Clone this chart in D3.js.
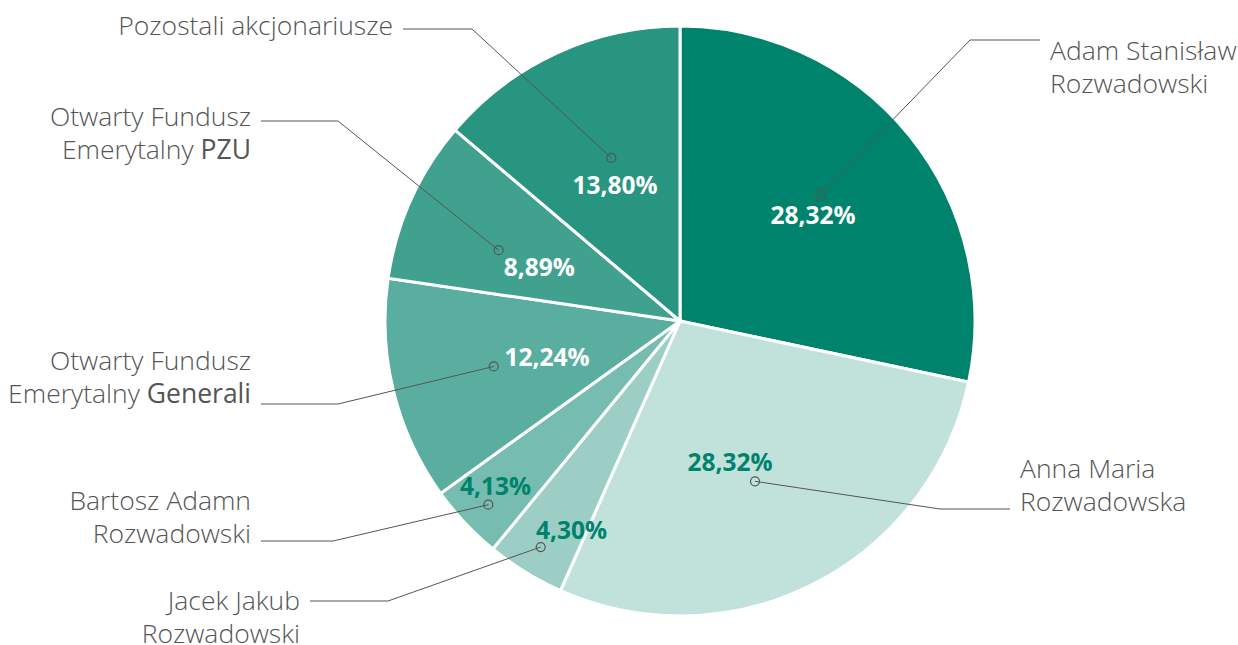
<!DOCTYPE html>
<html>
<head>
<meta charset="utf-8">
<script src="https://cdn.jsdelivr.net/npm/d3@7"></script>
<style>
  body { margin: 0; background: #fff; }
  svg { display: block; }
</style>
</head>
<body>
<div id="chart"></div>
<script>
// dane: akcjonariusze i udzialy (%), kolejnosc zgodnie z ruchem wskazowek od godz. 12
const names = [
  ["Adam Stanisław", "Rozwadowski"],
  ["Anna Maria", "Rozwadowska"],
  ["Jacek Jakub", "Rozwadowski"],
  ["Bartosz Adamn", "Rozwadowski"],
  ["Otwarty Fundusz", "Emerytalny |Generali"],
  ["Otwarty Fundusz", "Emerytalny |PZU"],
  ["Pozostali akcjonariusze"]
];
const shares = [28.32, 28.32, 4.30, 4.13, 12.24, 8.89, 13.80];
const colors = ["#00836c", "#c1e1db", "#9dcec5", "#76bcb0", "#5aae9f", "#41a18f", "#27957f"];
const pctColors = ["#fff", "#00836c", "#00836c", "#00836c", "#fff", "#fff", "#fff"];

// rozmieszczenie opisow (poza danymi)
const layout = [
  { side: "r", x: 1050, y: 51, lineY: 40, elbow: 970, lr: 0.575, la: 0.7, dr: 0.64, da: -3 },
  { side: "r", x: 1020, y: 469, lineY: 509, elbow: 940, lr: 0.51, la: 7.6, dr: 0.6, da: 2 },
  { side: "l", x: 300, y: 601, lineY: 601, elbow: 388, lr: 0.8, la: -4.3, dr: 0.9, da: 0 },
  { side: "l", x: 251, y: 501, lineY: 541, elbow: 333, lr: 0.84, la: 1.3, dr: 0.9, da: -0.6 },
  { side: "l", x: 251, y: 361, lineY: 404, elbow: 338, lr: 0.467, la: -1.4, dr: 0.65, da: 0 },
  { side: "l", x: 251, y: 117, lineY: 121, elbow: 338, lr: 0.51, la: -3.6, dr: 0.66, da: -3 },
  { side: "l", x: 393, y: 26, lineY: 29, elbow: 472, lr: 0.51, la: -0.7, dr: 0.6, da: 2 }
];

const width = 1238, height = 645;
const cx = 680, cy = 321, R = 295;

const svg = d3.select("#chart").append("svg")
  .attr("width", width)
  .attr("height", height);

const g = svg.append("g").attr("transform", `translate(${cx},${cy})`);

const pie = d3.pie().sort(null).value(d => d);
const arcs = pie(shares);
const arc = d3.arc().innerRadius(0).outerRadius(R);

g.selectAll("path.slice")
  .data(arcs)
  .enter()
  .append("path")
  .attr("class", "slice")
  .attr("d", arc)
  .attr("fill", (d, i) => colors[i])
  .attr("stroke", "#fff")
  .attr("stroke-width", 3);

const deg = Math.PI / 180;
function polar(r, a) {
  return [r * Math.sin(a), -r * Math.cos(a)];
}

arcs.forEach((d, i) => {
  const L = layout[i];
  const mid = (d.startAngle + d.endAngle) / 2;
  const [lx, ly] = polar(R * L.lr, mid + L.la * deg);
  const [dx, dy] = polar(R * L.dr, mid + L.da * deg);

  // linia odnosnika
  const ex = L.elbow - cx, ey = L.lineY - cy;
  const hx = (L.side === "r" ? L.x - 10 : L.x + 10) - cx;
  g.append("path")
    .attr("d", `M${dx},${dy}L${ex},${ey}L${hx},${ey}`)
    .attr("fill", "none")
    .attr("stroke", "#555")
    .attr("stroke-width", 1);

  g.append("circle")
    .attr("cx", dx)
    .attr("cy", dy)
    .attr("r", 4.5)
    .attr("fill", "none")
    .attr("stroke", "#555")
    .attr("stroke-width", 1.2);

  // wartosc procentowa
  g.append("text")
    .attr("x", lx)
    .attr("y", ly)
    .attr("dy", "0.35em")
    .attr("text-anchor", "middle")
    .attr("fill", pctColors[i])
    .style("font-family", "'Open Sans', sans-serif")
    .style("font-weight", 700)
    .style("font-size", "24.5px")
    .text(d3.format(".2f")(d.data).replace(".", ",") + "%");

  // nazwa akcjonariusza
  const t = svg.append("text")
    .attr("x", L.x)
    .attr("y", L.y)
    .attr("text-anchor", L.side === "r" ? "start" : "end")
    .attr("fill", "#555")
    .style("font-family", "'Open Sans', sans-serif")
    .style("font-weight", 300)
    .style("font-size", "26.5px");
  names[i].forEach((line, k) => {
    const ts = t.append("tspan")
      .attr("x", L.x)
      .attr("dy", k === 0 ? "0.35em" : "1.25em");
    const parts = line.split("|");
    ts.text(parts[0]);
    if (parts[1]) {
      t.append("tspan").style("font-weight", 500).text(parts[1]);
    }
  });
});
</script>
</body>
</html>
